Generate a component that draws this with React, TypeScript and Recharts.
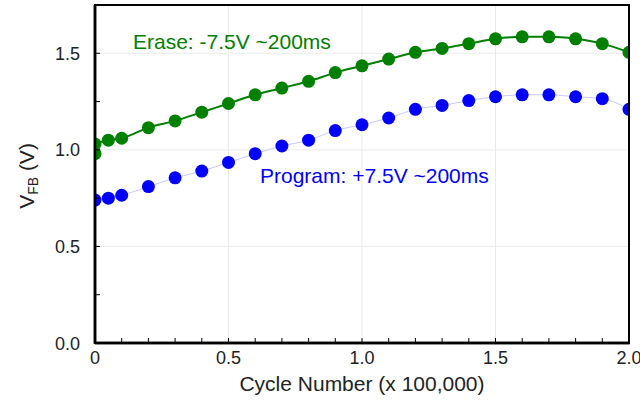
import React from 'react';
import { ComposedChart, Line, XAxis, YAxis, ReferenceLine } from 'recharts';

const eraseCycle = [0, 0, 0.05, 0.1, 0.2, 0.3, 0.4, 0.5, 0.6, 0.7, 0.8, 0.9, 1.0, 1.1, 1.2, 1.3, 1.4, 1.5, 1.6, 1.7, 1.8, 1.9, 2.0];
const eraseVfb = [0.98, 1.03, 1.05, 1.06, 1.115, 1.15, 1.195, 1.24, 1.285, 1.32, 1.355, 1.4, 1.435, 1.47, 1.505, 1.525, 1.55, 1.575, 1.585, 1.585, 1.575, 1.55, 1.505];

const programCycle = [0, 0.05, 0.1, 0.2, 0.3, 0.4, 0.5, 0.6, 0.7, 0.8, 0.9, 1.0, 1.1, 1.2, 1.3, 1.4, 1.5, 1.6, 1.7, 1.8, 1.9, 2.0];
const programVfb = [0.74, 0.75, 0.765, 0.81, 0.855, 0.89, 0.935, 0.98, 1.02, 1.05, 1.1, 1.13, 1.165, 1.21, 1.23, 1.255, 1.275, 1.285, 1.285, 1.275, 1.265, 1.21];

const xTicks = [0, 0.1, 0.2, 0.3, 0.4, 0.5, 0.6, 0.7, 0.8, 0.9, 1.0, 1.1, 1.2, 1.3, 1.4, 1.5, 1.6, 1.7, 1.8, 1.9, 2.0];
const yTicks = [0, 0.25, 0.5, 0.75, 1.0, 1.25, 1.5, 1.75];
const xGrid = [0.5, 1.0, 1.5];
const yGrid = [0.5, 1.0, 1.5];
const xDomain = [0, 2];
const yDomain = [0, 1.75];

const eraseData = eraseCycle.map((x, i) => ({ x, y: eraseVfb[i] }));
const programData = programCycle.map((x, i) => ({ x, y: programVfb[i] }));

// layout
const W = 640;
const H = 401;
const M = { top: 5, right: 11, bottom: 0, left: 0 };
const Y_AXIS_W = 95;
const X_AXIS_H = 58;
const PLOT = {
  x: M.left + Y_AXIS_W,
  y: M.top,
  w: W - M.left - M.right - Y_AXIS_W,
  h: H - M.top - M.bottom - X_AXIS_H,
};

const FONT = '"Liberation Sans", Arial, sans-serif';
const GREEN = '#008000';
const BLUE = '#0000ff';

const isMajor = (v: number) => Math.abs(v * 2 - Math.round(v * 2)) < 1e-6;

const XTick = (props: any) => {
  const { x, y, payload } = props;
  const v = payload.value as number;
  const label = v === 0 ? '0' : v.toFixed(1);
  return (
    <g>
      <line x1={x} x2={x} y1={y} y2={y - 5} stroke="#000" strokeWidth={1} />
      {isMajor(v) && (
        <text x={x} y={y + 21} textAnchor="middle" fontSize={18} fontFamily={FONT} fill="#222">
          {label}
        </text>
      )}
    </g>
  );
};

const YTick = (props: any) => {
  const { x, y, payload } = props;
  const v = payload.value as number;
  if (v > 1.6) return <g />;
  return (
    <g>
      <line x1={x} x2={x + 5} y1={y} y2={y} stroke="#000" strokeWidth={1} />
      {isMajor(v) && (
        <text x={x - 15} y={y + 6.5} textAnchor="end" fontSize={18} fontFamily={FONT} fill="#222">
          {v.toFixed(1)}
        </text>
      )}
    </g>
  );
};

const makeDot = (color: string) => (p: any) => (
  <circle
    key={`${color}-${p.index}`}
    cx={p.cx}
    cy={p.cy}
    r={6.5}
    fill={color}
    stroke="none"
    clipPath="url(#plotClipArea)"
  />
);

export default function App() {
  return (
    <div style={{ position: 'absolute', left: 0, top: 0, width: W, height: H, background: '#fff' }}>
      <svg width={0} height={0} style={{ position: 'absolute' }}>
        <defs>
          <clipPath id="plotClipArea">
            <rect x={PLOT.x} y={PLOT.y} width={PLOT.w} height={PLOT.h} />
          </clipPath>
        </defs>
      </svg>
      <ComposedChart width={W} height={H} margin={M}>
        <XAxis
          type="number"
          dataKey="x"
          domain={xDomain}
          ticks={xTicks}
          interval={0}
          allowDataOverflow
          height={X_AXIS_H}
          tickSize={0}
          tickMargin={0}
          tickLine={false}
          tick={<XTick />}
          axisLine={{ stroke: '#000', strokeWidth: 2.5 }}
        />
        <YAxis
          type="number"
          domain={yDomain}
          ticks={yTicks}
          interval={0}
          allowDataOverflow
          width={Y_AXIS_W}
          tickSize={0}
          tickMargin={0}
          tickLine={false}
          tick={<YTick />}
          axisLine={{ stroke: '#000', strokeWidth: 2.5 }}
        />
        {xGrid.map((v) => (
          <ReferenceLine key={'gx' + v} x={v} stroke="#ebebeb" strokeWidth={1} />
        ))}
        {yGrid.map((v) => (
          <ReferenceLine key={'gy' + v} y={v} stroke="#ebebeb" strokeWidth={1} />
        ))}
        <Line
          data={programData}
          dataKey="y"
          type="monotone"
          stroke="#c8c8ff"
          strokeWidth={1}
          dot={makeDot(BLUE)}
          activeDot={false}
          isAnimationActive={false}
        />
        <Line
          data={eraseData}
          dataKey="y"
          type="monotone"
          stroke={GREEN}
          strokeWidth={2}
          dot={makeDot(GREEN)}
          activeDot={false}
          isAnimationActive={false}
        />
      </ComposedChart>
      <svg width={W} height={H} style={{ position: 'absolute', left: 0, top: 0, pointerEvents: 'none' }} fontFamily={FONT}>
        <rect x={PLOT.x} y={PLOT.y} width={PLOT.w} height={PLOT.h} fill="none" stroke="#000" strokeWidth={2} />
        <line x1={PLOT.x} x2={PLOT.x} y1={PLOT.y} y2={PLOT.y + PLOT.h + 1} stroke="#000" strokeWidth={2.5} />
        <line x1={PLOT.x} x2={PLOT.x + PLOT.w + 1} y1={PLOT.y + PLOT.h} y2={PLOT.y + PLOT.h} stroke="#000" strokeWidth={2.5} />
        <text x={133} y={49} fontSize={21} fill={GREEN}>Erase: -7.5V ~200ms</text>
        <text x={260} y={183} fontSize={21} fill={BLUE}>Program: +7.5V ~200ms</text>
        <text x={362} y={391} fontSize={21} fill="#222" textAnchor="middle">Cycle Number (x 100,000)</text>
        <text transform="translate(34,176) rotate(-90)" fontSize={21} fill="#222" textAnchor="middle">
          V<tspan fontSize={14} dy={4}>FB</tspan><tspan dy={-4}> (V)</tspan>
        </text>
      </svg>
    </div>
  );
}
